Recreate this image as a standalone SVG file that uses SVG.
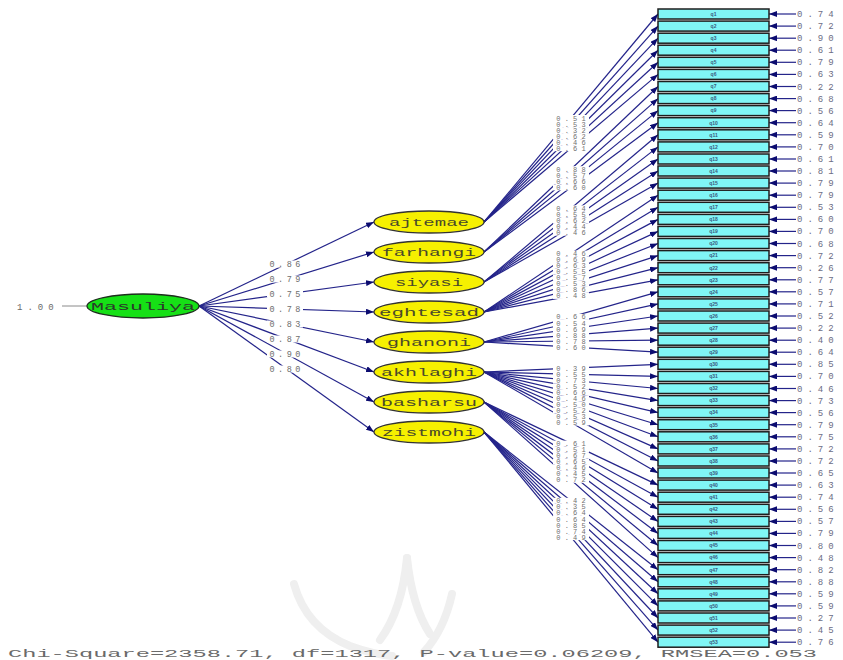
<svg xmlns="http://www.w3.org/2000/svg" width="843" height="660" viewBox="0 0 843 660">
<style>
.bg{fill:#ffffff}
.wm{fill:none;stroke:#efefef;stroke-width:8;stroke-linecap:round}
.ln{stroke:#24248a;stroke-width:1.2;fill:none;marker-end:url(#ah)}
.ln0{stroke:#8a8a8a;stroke-width:1;fill:none}
.lb rect{fill:#ffffff}
.lb text{font-family:"Liberation Mono",monospace;font-size:7px;letter-spacing:4.2px;fill:#707070;text-anchor:middle}
.ml text{font-family:"Liberation Mono",monospace;font-size:8.5px;letter-spacing:3.5px;fill:#6e6e6e;text-anchor:middle}
.box rect{fill:#80f6f6;stroke:#1e1e1e;stroke-width:1.5}
.box .nm{font-family:"Liberation Sans",sans-serif;font-size:5px;font-weight:bold;fill:#3a5a80;text-anchor:middle}
.box .er{font-family:"Liberation Mono",monospace;font-size:9px;letter-spacing:5px;fill:#6c6c84}
.el ellipse{fill:#f6f000;stroke:#333333;stroke-width:1.3}
.el text{font-family:"Liberation Mono",monospace;font-size:11px;fill:#4a4a2a;text-anchor:middle}
.gr ellipse{fill:#16e016;stroke:#1e2e1e;stroke-width:1.3}
.gr text{font-family:"Liberation Mono",monospace;font-size:11px;fill:#2a3a2a;text-anchor:middle}
.tx{font-family:"Liberation Mono",monospace;fill:#6a6a6a;text-anchor:start}
</style>
<defs>
<marker id="ah" markerWidth="8" markerHeight="6" refX="8" refY="3" orient="auto" markerUnits="userSpaceOnUse">
<path d="M0,0 L8,3 L0,6 z" fill="#0c0c70"/>
</marker>
</defs>
<rect class="bg" x="0" y="0" width="843" height="660"/>
<g id="watermark">
<path class="wm" d="M294,584 Q306,628 350,646 Q372,654 392,656"/>
<path class="wm" d="M407,558 Q402,610 380,640"/>
<path class="wm" d="M407,558 Q412,606 430,634"/>
<path class="wm" d="M452,594 Q444,630 424,652"/>
</g>
<g id="connectors">
<line class="ln0" x1="62" y1="306" x2="87" y2="306"/>
<line class="ln" x1="199" y1="306" x2="374" y2="222"/>
<line class="ln" x1="199" y1="306" x2="374" y2="252"/>
<line class="ln" x1="199" y1="306" x2="374" y2="282"/>
<line class="ln" x1="199" y1="306" x2="374" y2="312"/>
<line class="ln" x1="199" y1="306" x2="374" y2="342"/>
<line class="ln" x1="199" y1="306" x2="374" y2="372"/>
<line class="ln" x1="199" y1="306" x2="374" y2="402"/>
<line class="ln" x1="199" y1="306" x2="374" y2="432"/>
<line class="ln" x1="484" y1="222" x2="658" y2="14"/>
<line class="ln" x1="484" y1="222" x2="658" y2="26.1"/>
<line class="ln" x1="484" y1="222" x2="658" y2="38.2"/>
<line class="ln" x1="484" y1="222" x2="658" y2="50.2"/>
<line class="ln" x1="484" y1="222" x2="658" y2="62.3"/>
<line class="ln" x1="484" y1="222" x2="658" y2="74.4"/>
<line class="ln" x1="484" y1="252" x2="658" y2="86.5"/>
<line class="ln" x1="484" y1="252" x2="658" y2="98.6"/>
<line class="ln" x1="484" y1="252" x2="658" y2="110.6"/>
<line class="ln" x1="484" y1="252" x2="658" y2="122.7"/>
<line class="ln" x1="484" y1="282" x2="658" y2="134.8"/>
<line class="ln" x1="484" y1="282" x2="658" y2="146.9"/>
<line class="ln" x1="484" y1="282" x2="658" y2="159"/>
<line class="ln" x1="484" y1="282" x2="658" y2="171"/>
<line class="ln" x1="484" y1="282" x2="658" y2="183.1"/>
<line class="ln" x1="484" y1="312" x2="658" y2="195.2"/>
<line class="ln" x1="484" y1="312" x2="658" y2="207.3"/>
<line class="ln" x1="484" y1="312" x2="658" y2="219.4"/>
<line class="ln" x1="484" y1="312" x2="658" y2="231.4"/>
<line class="ln" x1="484" y1="312" x2="658" y2="243.5"/>
<line class="ln" x1="484" y1="312" x2="658" y2="255.6"/>
<line class="ln" x1="484" y1="312" x2="658" y2="267.7"/>
<line class="ln" x1="484" y1="312" x2="658" y2="279.8"/>
<line class="ln" x1="484" y1="342" x2="658" y2="291.8"/>
<line class="ln" x1="484" y1="342" x2="658" y2="303.9"/>
<line class="ln" x1="484" y1="342" x2="658" y2="316"/>
<line class="ln" x1="484" y1="342" x2="658" y2="328.1"/>
<line class="ln" x1="484" y1="342" x2="658" y2="340.2"/>
<line class="ln" x1="484" y1="342" x2="658" y2="352.2"/>
<line class="ln" x1="484" y1="372" x2="658" y2="364.3"/>
<line class="ln" x1="484" y1="372" x2="658" y2="376.4"/>
<line class="ln" x1="484" y1="372" x2="658" y2="388.5"/>
<line class="ln" x1="484" y1="372" x2="658" y2="400.6"/>
<line class="ln" x1="484" y1="372" x2="658" y2="412.6"/>
<line class="ln" x1="484" y1="372" x2="658" y2="424.7"/>
<line class="ln" x1="484" y1="372" x2="658" y2="436.8"/>
<line class="ln" x1="484" y1="372" x2="658" y2="448.9"/>
<line class="ln" x1="484" y1="372" x2="658" y2="461"/>
<line class="ln" x1="484" y1="372" x2="658" y2="473"/>
<line class="ln" x1="484" y1="402" x2="658" y2="485.1"/>
<line class="ln" x1="484" y1="402" x2="658" y2="497.2"/>
<line class="ln" x1="484" y1="402" x2="658" y2="509.3"/>
<line class="ln" x1="484" y1="402" x2="658" y2="521.4"/>
<line class="ln" x1="484" y1="402" x2="658" y2="533.4"/>
<line class="ln" x1="484" y1="402" x2="658" y2="545.5"/>
<line class="ln" x1="484" y1="402" x2="658" y2="557.6"/>
<line class="ln" x1="484" y1="432" x2="658" y2="569.7"/>
<line class="ln" x1="484" y1="432" x2="658" y2="581.8"/>
<line class="ln" x1="484" y1="432" x2="658" y2="593.8"/>
<line class="ln" x1="484" y1="432" x2="658" y2="605.9"/>
<line class="ln" x1="484" y1="432" x2="658" y2="618"/>
<line class="ln" x1="484" y1="432" x2="658" y2="630.1"/>
<line class="ln" x1="484" y1="432" x2="658" y2="642.2"/>
<g class="ml">
<g transform="translate(285,264)"><rect class="bg" x="-18" y="-3.5" width="36" height="7"/><text x="1.7" y="3">0.86</text></g>
<g transform="translate(285,279)"><rect class="bg" x="-18" y="-3.5" width="36" height="7"/><text x="1.7" y="3">0.79</text></g>
<g transform="translate(285,294)"><rect class="bg" x="-18" y="-3.5" width="36" height="7"/><text x="1.7" y="3">0.75</text></g>
<g transform="translate(285,309)"><rect class="bg" x="-18" y="-3.5" width="36" height="7"/><text x="1.7" y="3">0.78</text></g>
<g transform="translate(285,324)"><rect class="bg" x="-18" y="-3.5" width="36" height="7"/><text x="1.7" y="3">0.83</text></g>
<g transform="translate(285,339)"><rect class="bg" x="-18" y="-3.5" width="36" height="7"/><text x="1.7" y="3">0.87</text></g>
<g transform="translate(285,354)"><rect class="bg" x="-18" y="-3.5" width="36" height="7"/><text x="1.7" y="3">0.90</text></g>
<g transform="translate(285,369)"><rect class="bg" x="-18" y="-3.5" width="36" height="7"/><text x="1.7" y="3">0.80</text></g>
</g>
<g class="lb">
<g transform="translate(571,118)"><rect x="-18" y="-3" width="36" height="6"/><text x="2.1" y="2.5">0.51</text></g>
<g transform="translate(571,124)"><rect x="-18" y="-3" width="36" height="6"/><text x="2.1" y="2.5">0.53</text></g>
<g transform="translate(571,130.1)"><rect x="-18" y="-3" width="36" height="6"/><text x="2.1" y="2.5">0.32</text></g>
<g transform="translate(571,136.1)"><rect x="-18" y="-3" width="36" height="6"/><text x="2.1" y="2.5">0.62</text></g>
<g transform="translate(571,142.2)"><rect x="-18" y="-3" width="36" height="6"/><text x="2.1" y="2.5">0.46</text></g>
<g transform="translate(571,148.2)"><rect x="-18" y="-3" width="36" height="6"/><text x="2.1" y="2.5">0.61</text></g>
<g transform="translate(571,169.2)"><rect x="-18" y="-3" width="36" height="6"/><text x="2.1" y="2.5">0.88</text></g>
<g transform="translate(571,175.3)"><rect x="-18" y="-3" width="36" height="6"/><text x="2.1" y="2.5">0.57</text></g>
<g transform="translate(571,181.3)"><rect x="-18" y="-3" width="36" height="6"/><text x="2.1" y="2.5">0.66</text></g>
<g transform="translate(571,187.4)"><rect x="-18" y="-3" width="36" height="6"/><text x="2.1" y="2.5">0.60</text></g>
<g transform="translate(571,208.4)"><rect x="-18" y="-3" width="36" height="6"/><text x="2.1" y="2.5">0.64</text></g>
<g transform="translate(571,214.4)"><rect x="-18" y="-3" width="36" height="6"/><text x="2.1" y="2.5">0.55</text></g>
<g transform="translate(571,220.5)"><rect x="-18" y="-3" width="36" height="6"/><text x="2.1" y="2.5">0.62</text></g>
<g transform="translate(571,226.5)"><rect x="-18" y="-3" width="36" height="6"/><text x="2.1" y="2.5">0.44</text></g>
<g transform="translate(571,232.6)"><rect x="-18" y="-3" width="36" height="6"/><text x="2.1" y="2.5">0.46</text></g>
<g transform="translate(571,253.6)"><rect x="-18" y="-3" width="36" height="6"/><text x="2.1" y="2.5">0.46</text></g>
<g transform="translate(571,259.6)"><rect x="-18" y="-3" width="36" height="6"/><text x="2.1" y="2.5">0.69</text></g>
<g transform="translate(571,265.7)"><rect x="-18" y="-3" width="36" height="6"/><text x="2.1" y="2.5">0.63</text></g>
<g transform="translate(571,271.7)"><rect x="-18" y="-3" width="36" height="6"/><text x="2.1" y="2.5">0.55</text></g>
<g transform="translate(571,277.8)"><rect x="-18" y="-3" width="36" height="6"/><text x="2.1" y="2.5">0.57</text></g>
<g transform="translate(571,283.8)"><rect x="-18" y="-3" width="36" height="6"/><text x="2.1" y="2.5">0.53</text></g>
<g transform="translate(571,289.8)"><rect x="-18" y="-3" width="36" height="6"/><text x="2.1" y="2.5">0.86</text></g>
<g transform="translate(571,295.9)"><rect x="-18" y="-3" width="36" height="6"/><text x="2.1" y="2.5">0.48</text></g>
<g transform="translate(571,316.9)"><rect x="-18" y="-3" width="36" height="6"/><text x="2.1" y="2.5">0.66</text></g>
<g transform="translate(571,323)"><rect x="-18" y="-3" width="36" height="6"/><text x="2.1" y="2.5">0.54</text></g>
<g transform="translate(571,329)"><rect x="-18" y="-3" width="36" height="6"/><text x="2.1" y="2.5">0.69</text></g>
<g transform="translate(571,335)"><rect x="-18" y="-3" width="36" height="6"/><text x="2.1" y="2.5">0.88</text></g>
<g transform="translate(571,341.1)"><rect x="-18" y="-3" width="36" height="6"/><text x="2.1" y="2.5">0.78</text></g>
<g transform="translate(571,347.1)"><rect x="-18" y="-3" width="36" height="6"/><text x="2.1" y="2.5">0.60</text></g>
<g transform="translate(571,368.2)"><rect x="-18" y="-3" width="36" height="6"/><text x="2.1" y="2.5">0.39</text></g>
<g transform="translate(571,374.2)"><rect x="-18" y="-3" width="36" height="6"/><text x="2.1" y="2.5">0.55</text></g>
<g transform="translate(571,380.2)"><rect x="-18" y="-3" width="36" height="6"/><text x="2.1" y="2.5">0.73</text></g>
<g transform="translate(571,386.3)"><rect x="-18" y="-3" width="36" height="6"/><text x="2.1" y="2.5">0.52</text></g>
<g transform="translate(571,392.3)"><rect x="-18" y="-3" width="36" height="6"/><text x="2.1" y="2.5">0.66</text></g>
<g transform="translate(571,398.4)"><rect x="-18" y="-3" width="36" height="6"/><text x="2.1" y="2.5">0.46</text></g>
<g transform="translate(571,404.4)"><rect x="-18" y="-3" width="36" height="6"/><text x="2.1" y="2.5">0.50</text></g>
<g transform="translate(571,410.4)"><rect x="-18" y="-3" width="36" height="6"/><text x="2.1" y="2.5">0.52</text></g>
<g transform="translate(571,416.5)"><rect x="-18" y="-3" width="36" height="6"/><text x="2.1" y="2.5">0.53</text></g>
<g transform="translate(571,422.5)"><rect x="-18" y="-3" width="36" height="6"/><text x="2.1" y="2.5">0.59</text></g>
<g transform="translate(571,443.6)"><rect x="-18" y="-3" width="36" height="6"/><text x="2.1" y="2.5">0.61</text></g>
<g transform="translate(571,449.6)"><rect x="-18" y="-3" width="36" height="6"/><text x="2.1" y="2.5">0.51</text></g>
<g transform="translate(571,455.6)"><rect x="-18" y="-3" width="36" height="6"/><text x="2.1" y="2.5">0.67</text></g>
<g transform="translate(571,461.7)"><rect x="-18" y="-3" width="36" height="6"/><text x="2.1" y="2.5">0.65</text></g>
<g transform="translate(571,467.7)"><rect x="-18" y="-3" width="36" height="6"/><text x="2.1" y="2.5">0.46</text></g>
<g transform="translate(571,473.8)"><rect x="-18" y="-3" width="36" height="6"/><text x="2.1" y="2.5">0.45</text></g>
<g transform="translate(571,479.8)"><rect x="-18" y="-3" width="36" height="6"/><text x="2.1" y="2.5">0.72</text></g>
<g transform="translate(571,500.8)"><rect x="-18" y="-3" width="36" height="6"/><text x="2.1" y="2.5">0.42</text></g>
<g transform="translate(571,506.9)"><rect x="-18" y="-3" width="36" height="6"/><text x="2.1" y="2.5">0.35</text></g>
<g transform="translate(571,512.9)"><rect x="-18" y="-3" width="36" height="6"/><text x="2.1" y="2.5">0.64</text></g>
<g transform="translate(571,519)"><rect x="-18" y="-3" width="36" height="6"/><text x="2.1" y="2.5">0.64</text></g>
<g transform="translate(571,525)"><rect x="-18" y="-3" width="36" height="6"/><text x="2.1" y="2.5">0.85</text></g>
<g transform="translate(571,531)"><rect x="-18" y="-3" width="36" height="6"/><text x="2.1" y="2.5">0.74</text></g>
<g transform="translate(571,537.1)"><rect x="-18" y="-3" width="36" height="6"/><text x="2.1" y="2.5">0.49</text></g>
</g>
</g>
<text class="tx" x="17" y="309.5" style="font-size:9px;letter-spacing:5px">1.00</text>
<g id="Masuliya" class="gr">
<ellipse cx="143" cy="306" rx="56" ry="12"/>
<text x="143" y="310" textLength="104" lengthAdjust="spacingAndGlyphs">Masuliya</text>
</g>
<g id="ajtemae" class="el"><ellipse cx="429" cy="222" rx="55" ry="11"/><text x="429" y="226" textLength="80" lengthAdjust="spacingAndGlyphs">ajtemae</text></g>
<g id="farhangi" class="el"><ellipse cx="429" cy="252" rx="55" ry="11"/><text x="429" y="256" textLength="94" lengthAdjust="spacingAndGlyphs">farhangi</text></g>
<g id="siyasi" class="el"><ellipse cx="429" cy="282" rx="55" ry="11"/><text x="429" y="286" textLength="68" lengthAdjust="spacingAndGlyphs">siyasi</text></g>
<g id="eghtesad" class="el"><ellipse cx="429" cy="312" rx="55" ry="11"/><text x="429" y="316" textLength="100" lengthAdjust="spacingAndGlyphs">eghtesad</text></g>
<g id="ghanoni" class="el"><ellipse cx="429" cy="342" rx="55" ry="11"/><text x="429" y="346" textLength="84" lengthAdjust="spacingAndGlyphs">ghanoni</text></g>
<g id="akhlaghi" class="el"><ellipse cx="429" cy="372" rx="55" ry="11"/><text x="429" y="376" textLength="96" lengthAdjust="spacingAndGlyphs">akhlaghi</text></g>
<g id="basharsu" class="el"><ellipse cx="429" cy="402" rx="55" ry="11"/><text x="429" y="406" textLength="96" lengthAdjust="spacingAndGlyphs">basharsu</text></g>
<g id="zistmohi" class="el"><ellipse cx="429" cy="432" rx="55" ry="11"/><text x="429" y="436" textLength="94" lengthAdjust="spacingAndGlyphs">zistmohi</text></g>
<g id="errors">
<line class="ln" x1="796" y1="14" x2="769" y2="14"/>
<line class="ln" x1="796" y1="26.1" x2="769" y2="26.1"/>
<line class="ln" x1="796" y1="38.2" x2="769" y2="38.2"/>
<line class="ln" x1="796" y1="50.2" x2="769" y2="50.2"/>
<line class="ln" x1="796" y1="62.3" x2="769" y2="62.3"/>
<line class="ln" x1="796" y1="74.4" x2="769" y2="74.4"/>
<line class="ln" x1="796" y1="86.5" x2="769" y2="86.5"/>
<line class="ln" x1="796" y1="98.6" x2="769" y2="98.6"/>
<line class="ln" x1="796" y1="110.6" x2="769" y2="110.6"/>
<line class="ln" x1="796" y1="122.7" x2="769" y2="122.7"/>
<line class="ln" x1="796" y1="134.8" x2="769" y2="134.8"/>
<line class="ln" x1="796" y1="146.9" x2="769" y2="146.9"/>
<line class="ln" x1="796" y1="159" x2="769" y2="159"/>
<line class="ln" x1="796" y1="171" x2="769" y2="171"/>
<line class="ln" x1="796" y1="183.1" x2="769" y2="183.1"/>
<line class="ln" x1="796" y1="195.2" x2="769" y2="195.2"/>
<line class="ln" x1="796" y1="207.3" x2="769" y2="207.3"/>
<line class="ln" x1="796" y1="219.4" x2="769" y2="219.4"/>
<line class="ln" x1="796" y1="231.4" x2="769" y2="231.4"/>
<line class="ln" x1="796" y1="243.5" x2="769" y2="243.5"/>
<line class="ln" x1="796" y1="255.6" x2="769" y2="255.6"/>
<line class="ln" x1="796" y1="267.7" x2="769" y2="267.7"/>
<line class="ln" x1="796" y1="279.8" x2="769" y2="279.8"/>
<line class="ln" x1="796" y1="291.8" x2="769" y2="291.8"/>
<line class="ln" x1="796" y1="303.9" x2="769" y2="303.9"/>
<line class="ln" x1="796" y1="316" x2="769" y2="316"/>
<line class="ln" x1="796" y1="328.1" x2="769" y2="328.1"/>
<line class="ln" x1="796" y1="340.2" x2="769" y2="340.2"/>
<line class="ln" x1="796" y1="352.2" x2="769" y2="352.2"/>
<line class="ln" x1="796" y1="364.3" x2="769" y2="364.3"/>
<line class="ln" x1="796" y1="376.4" x2="769" y2="376.4"/>
<line class="ln" x1="796" y1="388.5" x2="769" y2="388.5"/>
<line class="ln" x1="796" y1="400.6" x2="769" y2="400.6"/>
<line class="ln" x1="796" y1="412.6" x2="769" y2="412.6"/>
<line class="ln" x1="796" y1="424.7" x2="769" y2="424.7"/>
<line class="ln" x1="796" y1="436.8" x2="769" y2="436.8"/>
<line class="ln" x1="796" y1="448.9" x2="769" y2="448.9"/>
<line class="ln" x1="796" y1="461" x2="769" y2="461"/>
<line class="ln" x1="796" y1="473" x2="769" y2="473"/>
<line class="ln" x1="796" y1="485.1" x2="769" y2="485.1"/>
<line class="ln" x1="796" y1="497.2" x2="769" y2="497.2"/>
<line class="ln" x1="796" y1="509.3" x2="769" y2="509.3"/>
<line class="ln" x1="796" y1="521.4" x2="769" y2="521.4"/>
<line class="ln" x1="796" y1="533.4" x2="769" y2="533.4"/>
<line class="ln" x1="796" y1="545.5" x2="769" y2="545.5"/>
<line class="ln" x1="796" y1="557.6" x2="769" y2="557.6"/>
<line class="ln" x1="796" y1="569.7" x2="769" y2="569.7"/>
<line class="ln" x1="796" y1="581.8" x2="769" y2="581.8"/>
<line class="ln" x1="796" y1="593.8" x2="769" y2="593.8"/>
<line class="ln" x1="796" y1="605.9" x2="769" y2="605.9"/>
<line class="ln" x1="796" y1="618" x2="769" y2="618"/>
<line class="ln" x1="796" y1="630.1" x2="769" y2="630.1"/>
<line class="ln" x1="796" y1="642.2" x2="769" y2="642.2"/>
</g>
<g id="q1" class="box" transform="translate(0,14)"><rect x="658" y="-5" width="111" height="10"/><text class="nm" x="713.5" y="1.8">q1</text><text class="er" x="797" y="3">0.74</text></g>
<g id="q2" class="box" transform="translate(0,26.1)"><rect x="658" y="-5" width="111" height="10"/><text class="nm" x="713.5" y="1.8">q2</text><text class="er" x="797" y="3">0.72</text></g>
<g id="q3" class="box" transform="translate(0,38.2)"><rect x="658" y="-5" width="111" height="10"/><text class="nm" x="713.5" y="1.8">q3</text><text class="er" x="797" y="3">0.90</text></g>
<g id="q4" class="box" transform="translate(0,50.2)"><rect x="658" y="-5" width="111" height="10"/><text class="nm" x="713.5" y="1.8">q4</text><text class="er" x="797" y="3">0.61</text></g>
<g id="q5" class="box" transform="translate(0,62.3)"><rect x="658" y="-5" width="111" height="10"/><text class="nm" x="713.5" y="1.8">q5</text><text class="er" x="797" y="3">0.79</text></g>
<g id="q6" class="box" transform="translate(0,74.4)"><rect x="658" y="-5" width="111" height="10"/><text class="nm" x="713.5" y="1.8">q6</text><text class="er" x="797" y="3">0.63</text></g>
<g id="q7" class="box" transform="translate(0,86.5)"><rect x="658" y="-5" width="111" height="10"/><text class="nm" x="713.5" y="1.8">q7</text><text class="er" x="797" y="3">0.22</text></g>
<g id="q8" class="box" transform="translate(0,98.6)"><rect x="658" y="-5" width="111" height="10"/><text class="nm" x="713.5" y="1.8">q8</text><text class="er" x="797" y="3">0.68</text></g>
<g id="q9" class="box" transform="translate(0,110.6)"><rect x="658" y="-5" width="111" height="10"/><text class="nm" x="713.5" y="1.8">q9</text><text class="er" x="797" y="3">0.56</text></g>
<g id="q10" class="box" transform="translate(0,122.7)"><rect x="658" y="-5" width="111" height="10"/><text class="nm" x="713.5" y="1.8">q10</text><text class="er" x="797" y="3">0.64</text></g>
<g id="q11" class="box" transform="translate(0,134.8)"><rect x="658" y="-5" width="111" height="10"/><text class="nm" x="713.5" y="1.8">q11</text><text class="er" x="797" y="3">0.59</text></g>
<g id="q12" class="box" transform="translate(0,146.9)"><rect x="658" y="-5" width="111" height="10"/><text class="nm" x="713.5" y="1.8">q12</text><text class="er" x="797" y="3">0.70</text></g>
<g id="q13" class="box" transform="translate(0,159)"><rect x="658" y="-5" width="111" height="10"/><text class="nm" x="713.5" y="1.8">q13</text><text class="er" x="797" y="3">0.61</text></g>
<g id="q14" class="box" transform="translate(0,171)"><rect x="658" y="-5" width="111" height="10"/><text class="nm" x="713.5" y="1.8">q14</text><text class="er" x="797" y="3">0.81</text></g>
<g id="q15" class="box" transform="translate(0,183.1)"><rect x="658" y="-5" width="111" height="10"/><text class="nm" x="713.5" y="1.8">q15</text><text class="er" x="797" y="3">0.79</text></g>
<g id="q16" class="box" transform="translate(0,195.2)"><rect x="658" y="-5" width="111" height="10"/><text class="nm" x="713.5" y="1.8">q16</text><text class="er" x="797" y="3">0.79</text></g>
<g id="q17" class="box" transform="translate(0,207.3)"><rect x="658" y="-5" width="111" height="10"/><text class="nm" x="713.5" y="1.8">q17</text><text class="er" x="797" y="3">0.53</text></g>
<g id="q18" class="box" transform="translate(0,219.4)"><rect x="658" y="-5" width="111" height="10"/><text class="nm" x="713.5" y="1.8">q18</text><text class="er" x="797" y="3">0.60</text></g>
<g id="q19" class="box" transform="translate(0,231.4)"><rect x="658" y="-5" width="111" height="10"/><text class="nm" x="713.5" y="1.8">q19</text><text class="er" x="797" y="3">0.70</text></g>
<g id="q20" class="box" transform="translate(0,243.5)"><rect x="658" y="-5" width="111" height="10"/><text class="nm" x="713.5" y="1.8">q20</text><text class="er" x="797" y="3">0.68</text></g>
<g id="q21" class="box" transform="translate(0,255.6)"><rect x="658" y="-5" width="111" height="10"/><text class="nm" x="713.5" y="1.8">q21</text><text class="er" x="797" y="3">0.72</text></g>
<g id="q22" class="box" transform="translate(0,267.7)"><rect x="658" y="-5" width="111" height="10"/><text class="nm" x="713.5" y="1.8">q22</text><text class="er" x="797" y="3">0.26</text></g>
<g id="q23" class="box" transform="translate(0,279.8)"><rect x="658" y="-5" width="111" height="10"/><text class="nm" x="713.5" y="1.8">q23</text><text class="er" x="797" y="3">0.77</text></g>
<g id="q24" class="box" transform="translate(0,291.8)"><rect x="658" y="-5" width="111" height="10"/><text class="nm" x="713.5" y="1.8">q24</text><text class="er" x="797" y="3">0.57</text></g>
<g id="q25" class="box" transform="translate(0,303.9)"><rect x="658" y="-5" width="111" height="10"/><text class="nm" x="713.5" y="1.8">q25</text><text class="er" x="797" y="3">0.71</text></g>
<g id="q26" class="box" transform="translate(0,316)"><rect x="658" y="-5" width="111" height="10"/><text class="nm" x="713.5" y="1.8">q26</text><text class="er" x="797" y="3">0.52</text></g>
<g id="q27" class="box" transform="translate(0,328.1)"><rect x="658" y="-5" width="111" height="10"/><text class="nm" x="713.5" y="1.8">q27</text><text class="er" x="797" y="3">0.22</text></g>
<g id="q28" class="box" transform="translate(0,340.2)"><rect x="658" y="-5" width="111" height="10"/><text class="nm" x="713.5" y="1.8">q28</text><text class="er" x="797" y="3">0.40</text></g>
<g id="q29" class="box" transform="translate(0,352.2)"><rect x="658" y="-5" width="111" height="10"/><text class="nm" x="713.5" y="1.8">q29</text><text class="er" x="797" y="3">0.64</text></g>
<g id="q30" class="box" transform="translate(0,364.3)"><rect x="658" y="-5" width="111" height="10"/><text class="nm" x="713.5" y="1.8">q30</text><text class="er" x="797" y="3">0.85</text></g>
<g id="q31" class="box" transform="translate(0,376.4)"><rect x="658" y="-5" width="111" height="10"/><text class="nm" x="713.5" y="1.8">q31</text><text class="er" x="797" y="3">0.70</text></g>
<g id="q32" class="box" transform="translate(0,388.5)"><rect x="658" y="-5" width="111" height="10"/><text class="nm" x="713.5" y="1.8">q32</text><text class="er" x="797" y="3">0.46</text></g>
<g id="q33" class="box" transform="translate(0,400.6)"><rect x="658" y="-5" width="111" height="10"/><text class="nm" x="713.5" y="1.8">q33</text><text class="er" x="797" y="3">0.73</text></g>
<g id="q34" class="box" transform="translate(0,412.6)"><rect x="658" y="-5" width="111" height="10"/><text class="nm" x="713.5" y="1.8">q34</text><text class="er" x="797" y="3">0.56</text></g>
<g id="q35" class="box" transform="translate(0,424.7)"><rect x="658" y="-5" width="111" height="10"/><text class="nm" x="713.5" y="1.8">q35</text><text class="er" x="797" y="3">0.79</text></g>
<g id="q36" class="box" transform="translate(0,436.8)"><rect x="658" y="-5" width="111" height="10"/><text class="nm" x="713.5" y="1.8">q36</text><text class="er" x="797" y="3">0.75</text></g>
<g id="q37" class="box" transform="translate(0,448.9)"><rect x="658" y="-5" width="111" height="10"/><text class="nm" x="713.5" y="1.8">q37</text><text class="er" x="797" y="3">0.72</text></g>
<g id="q38" class="box" transform="translate(0,461)"><rect x="658" y="-5" width="111" height="10"/><text class="nm" x="713.5" y="1.8">q38</text><text class="er" x="797" y="3">0.72</text></g>
<g id="q39" class="box" transform="translate(0,473)"><rect x="658" y="-5" width="111" height="10"/><text class="nm" x="713.5" y="1.8">q39</text><text class="er" x="797" y="3">0.65</text></g>
<g id="q40" class="box" transform="translate(0,485.1)"><rect x="658" y="-5" width="111" height="10"/><text class="nm" x="713.5" y="1.8">q40</text><text class="er" x="797" y="3">0.63</text></g>
<g id="q41" class="box" transform="translate(0,497.2)"><rect x="658" y="-5" width="111" height="10"/><text class="nm" x="713.5" y="1.8">q41</text><text class="er" x="797" y="3">0.74</text></g>
<g id="q42" class="box" transform="translate(0,509.3)"><rect x="658" y="-5" width="111" height="10"/><text class="nm" x="713.5" y="1.8">q42</text><text class="er" x="797" y="3">0.56</text></g>
<g id="q43" class="box" transform="translate(0,521.4)"><rect x="658" y="-5" width="111" height="10"/><text class="nm" x="713.5" y="1.8">q43</text><text class="er" x="797" y="3">0.57</text></g>
<g id="q44" class="box" transform="translate(0,533.4)"><rect x="658" y="-5" width="111" height="10"/><text class="nm" x="713.5" y="1.8">q44</text><text class="er" x="797" y="3">0.79</text></g>
<g id="q45" class="box" transform="translate(0,545.5)"><rect x="658" y="-5" width="111" height="10"/><text class="nm" x="713.5" y="1.8">q45</text><text class="er" x="797" y="3">0.80</text></g>
<g id="q46" class="box" transform="translate(0,557.6)"><rect x="658" y="-5" width="111" height="10"/><text class="nm" x="713.5" y="1.8">q46</text><text class="er" x="797" y="3">0.48</text></g>
<g id="q47" class="box" transform="translate(0,569.7)"><rect x="658" y="-5" width="111" height="10"/><text class="nm" x="713.5" y="1.8">q47</text><text class="er" x="797" y="3">0.82</text></g>
<g id="q48" class="box" transform="translate(0,581.8)"><rect x="658" y="-5" width="111" height="10"/><text class="nm" x="713.5" y="1.8">q48</text><text class="er" x="797" y="3">0.88</text></g>
<g id="q49" class="box" transform="translate(0,593.8)"><rect x="658" y="-5" width="111" height="10"/><text class="nm" x="713.5" y="1.8">q49</text><text class="er" x="797" y="3">0.59</text></g>
<g id="q50" class="box" transform="translate(0,605.9)"><rect x="658" y="-5" width="111" height="10"/><text class="nm" x="713.5" y="1.8">q50</text><text class="er" x="797" y="3">0.59</text></g>
<g id="q51" class="box" transform="translate(0,618)"><rect x="658" y="-5" width="111" height="10"/><text class="nm" x="713.5" y="1.8">q51</text><text class="er" x="797" y="3">0.27</text></g>
<g id="q52" class="box" transform="translate(0,630.1)"><rect x="658" y="-5" width="111" height="10"/><text class="nm" x="713.5" y="1.8">q52</text><text class="er" x="797" y="3">0.45</text></g>
<g id="q53" class="box" transform="translate(0,642.2)"><rect x="658" y="-5" width="111" height="10"/><text class="nm" x="713.5" y="1.8">q53</text><text class="er" x="797" y="3">0.76</text></g>
<text class="tx" x="8" y="656.5" style="font-size:11px" textLength="809" lengthAdjust="spacingAndGlyphs">Chi-Square=2358.71, df=1317, P-value=0.06209, RMSEA=0.053</text>
</svg>
